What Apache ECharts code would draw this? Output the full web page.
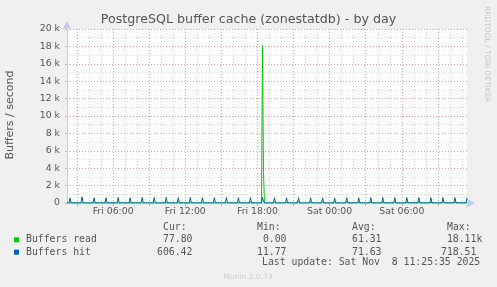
<!DOCTYPE html>
<html>
<head>
<meta charset="utf-8">
<script src="https://cdn.jsdelivr.net/npm/echarts@6/dist/echarts.min.js"></script>
<style>
html,body{margin:0;padding:0;background:#f0f0f0;}
#c{width:497px;height:287px;}
</style>
</head>
<body>
<div id="c"></div>
<script>
// ---- data (5-minute samples, Fri 02:10 .. Sat 11:25) ----
const startLabel = "Fri 02:10";
const stepMinutes = 5;
const sampleCount = 400;

const buffersRead = [
  0.4, 0, 1.1, 92, 2.5, 0, 0.3, 0, 0, 0.8, 0, 0.2,
  0.3, 0, 0.9, 140, 2.1, 0, 0.2, 0, 0, 0.6, 0, 0.1,
  0.5, 0, 1.2, 85, 2.7, 0, 0.4, 0, 0, 0.9, 0, 0.3,
  0.2, 0, 0.8, 110, 1.9, 0, 0.1, 0, 0, 0.5, 0, 0,
  0.4, 0, 1.0, 130, 2.4, 0, 0.3, 0, 0, 0.7, 0, 0.2,
  0.3, 0, 1.1, 75, 2.2, 0, 0.2, 0, 0, 0.6, 0, 0.1,
  0.6, 0, 1.3, 160, 2.9, 0, 0.5, 0, 0, 1.0, 0, 0.3,
  0.4, 0, 0.9, 95, 2.0, 0, 0.3, 0, 0, 0.7, 0, 0.2,
  0.5, 0, 1.2, 120, 2.6, 0, 0.4, 0, 0, 0.8, 0, 0.2,
  0.3, 0, 1.0, 88, 2.3, 0, 0.2, 0, 0, 0.6, 0, 0.1,
  0.6, 0, 1.4, 145, 2.8, 0, 0.4, 0, 0, 0.9, 0, 0.3,
  0.4, 0, 1.1, 102, 2.4, 0, 0.3, 0, 0, 0.7, 0, 0.2,
  0.5, 0, 1.2, 115, 2.5, 0, 0.3, 0, 0, 0.8, 0, 0.2,
  0.3, 0, 0.9, 90, 2.1, 0, 0.2, 0, 0, 0.6, 0, 0.1,
  0.5, 0, 1.3, 135, 2.7, 0, 0.4, 0, 0, 0.9, 0, 0.3,
  0.4, 0, 1.0, 98, 2.3, 0, 0.3, 0, 0, 0.7, 0, 0.2,
  0.6, 0, 1.5, 18110, 3500, 4.0, 0.8, 0, 0, 1.1, 0, 0.4,
  0.4, 0, 1.1, 125, 2.4, 0, 0.3, 0, 0, 0.7, 0, 0.2,
  0.3, 0, 0.8, 82, 2.0, 0, 0.2, 0, 0, 0.5, 0, 0.1,
  0.6, 0, 1.4, 150, 2.8, 0, 0.4, 0, 0, 0.9, 0, 0.3,
  0.4, 0, 1.0, 96, 2.2, 0, 0.3, 0, 0, 0.7, 0, 0.2,
  0.5, 0, 1.2, 118, 2.5, 0, 0.3, 0, 0, 0.8, 0, 0.2,
  0.3, 0, 0.9, 87, 2.1, 0, 0.2, 0, 0, 0.6, 0, 0.1,
  0.6, 0, 1.3, 142, 2.7, 0, 0.4, 0, 0, 0.9, 0, 0.3,
  0.4, 0, 1.1, 105, 2.4, 0, 0.3, 0, 0, 0.7, 0, 0.2,
  0.5, 0, 1.2, 128, 2.6, 0, 0.4, 0, 0, 0.8, 0, 0.2,
  0.3, 0, 0.9, 91, 2.1, 0, 0.2, 0, 0, 0.6, 0, 0.1,
  0.5, 0, 1.3, 137, 2.7, 0, 0.4, 0, 0, 0.9, 0, 0.3,
  0.4, 0, 1.0, 99, 2.3, 0, 0.3, 0, 0, 0.7, 0, 0.2,
  0.5, 0, 1.2, 121, 2.5, 0, 0.3, 0, 0, 0.8, 0, 0.2,
  0.3, 0, 0.9, 86, 2.0, 0, 0.2, 0, 0, 0.6, 0, 0.1,
  0.6, 0, 1.4, 148, 2.8, 0, 0.4, 0, 0, 0.9, 0, 0.3,
  0.4, 0, 1.1, 108, 2.4, 0, 0.3, 0, 0, 0.7, 0, 0.2,
  0.4, 0, 1.0, 77.80
];

const buffersHit = [
  18, 16, 21, 598, 34, 15, 14, 19, 13, 17, 15, 20,
  16, 14, 22, 718.51, 41, 17, 15, 18, 14, 16, 13, 19,
  17, 15, 20, 603, 36, 16, 14, 18, 15, 17, 14, 21,
  15, 14, 19, 611, 33, 15, 13, 17, 14, 16, 12, 18,
  16, 15, 21, 624, 38, 16, 14, 19, 15, 17, 14, 20,
  18, 16, 22, 596, 35, 17, 15, 18, 14, 16, 15, 19,
  17, 14, 20, 633, 37, 16, 14, 17, 13, 15, 14, 18,
  16, 15, 21, 615, 34, 15, 13, 18, 14, 17, 13, 20,
  19, 16, 23, 642, 39, 17, 15, 19, 16, 18, 15, 21,
  17, 15, 20, 608, 36, 16, 14, 18, 15, 16, 14, 19,
  18, 16, 22, 627, 38, 17, 15, 20, 16, 18, 15, 21,
  16, 14, 19, 601, 33, 15, 13, 17, 14, 16, 13, 18,
  17, 15, 21, 619, 35, 16, 14, 18, 15, 17, 14, 20,
  18, 16, 22, 636, 37, 17, 15, 19, 16, 18, 15, 21,
  16, 15, 20, 612, 34, 16, 14, 18, 14, 17, 14, 19,
  17, 14, 21, 625, 36, 15, 13, 17, 15, 16, 13, 20,
  18, 16, 22, 640, 120, 17, 15, 19, 16, 18, 15, 21,
  17, 15, 20, 606, 35, 16, 14, 18, 15, 17, 14, 19,
  16, 14, 19, 598, 33, 15, 13, 17, 14, 16, 12, 18,
  15, 13, 18, 604, 32, 14, 12, 16, 13, 15, 12, 17,
  14, 13, 17, 612, 31, 14, 12, 15, 13, 14, 11.77, 16,
  15, 13, 18, 597, 32, 14, 12, 16, 13, 15, 12, 17,
  14, 12, 17, 589, 30, 13, 12, 15, 12, 14, 12, 16,
  15, 13, 18, 603, 31, 14, 12, 16, 13, 15, 12, 17,
  15, 14, 19, 594, 33, 14, 13, 16, 13, 15, 13, 18,
  16, 14, 20, 611, 34, 15, 13, 17, 14, 16, 13, 19,
  17, 15, 21, 622, 36, 16, 14, 18, 15, 17, 14, 20,
  18, 16, 22, 630, 37, 17, 15, 19, 16, 18, 15, 21,
  17, 15, 21, 618, 35, 16, 14, 18, 15, 17, 14, 20,
  18, 16, 22, 637, 38, 17, 15, 19, 16, 18, 15, 21,
  17, 15, 20, 609, 35, 16, 14, 18, 15, 17, 14, 19,
  18, 16, 22, 628, 37, 17, 15, 19, 16, 18, 15, 21,
  17, 15, 21, 615, 36, 16, 14, 18, 15, 17, 14, 20,
  18, 16, 22, 606.42
];

const yTicks = [0, 2000, 4000, 6000, 8000, 10000, 12000, 14000, 16000, 18000, 20000];
const xTickLabels = ["Fri 06:00", "Fri 12:00", "Fri 18:00", "Sat 00:00", "Sat 06:00"];

const seriesNames = ["Buffers read", "Buffers hit"];
const curValues = ["77.80", "606.42"];
const minValues = [" 0.00", "11.77"];
const avgValues = ["61.31", "71.63"];
const maxValues = [" 18.11k", "718.51"];

const titleText = "PostgreSQL buffer cache (zonestatdb) - by day";
const yAxisTitle = "Buffers / second";
const lastUpdate = "Last update: Sat Nov  8 11:25:35 2025";
const sideText = "RRDTOOL / TOBI OETIKER";
const footer = "Munin 2.0.73";

// ---- derived categories ----
const startMin = 2 * 60 + 10;
const categories = [];
for (let i = 0; i < sampleCount; i++) {
  const m = startMin + i * stepMinutes;
  const day = m >= 1440 ? "Sat" : "Fri";
  const hh = Math.floor(m / 60) % 24;
  const mm = m % 60;
  categories.push(day + " " + String(hh).padStart(2, "0") + ":" + String(mm).padStart(2, "0"));
}
const minuteOf = (i) => (startMin + i * stepMinutes) % 60;
const hourOf = (i) => Math.floor((startMin + i * stepMinutes) / 60) % 24;

const GREEN = "#00cc00", BLUE = "#0066b3";
const RED_GRID = "#eaa2a2", GRAY_GRID = "#d9d9d9";
const AXIS_COL = "#c4cbee";
const mono = "DejaVu Sans Mono";
const sans = "DejaVu Sans";

function txt(text, x, y, opt) {
  opt = opt || {};
  return {
    type: "text", x: x, y: y, rotation: opt.rotation || 0, silent: true,
    style: {
      text: text,
      font: (opt.size || 9.8) + "px '" + (opt.family || mono) + "'",
      fill: opt.color || "#555",
      textAlign: opt.align || "left", align: opt.align || "left",
      textVerticalAlign: "middle", verticalAlign: "middle"
    }
  };
}

const graphics = [
  txt(titleText, 248.5, 19.5, {size: 12.67, family: sans, align: "center", color: "#555"}),
  txt(yAxisTitle, 10, 115, {size: 11, family: sans, align: "center", rotation: Math.PI / 2, color: "#555"}),
  txt(sideText, 487, 6, {size: 7.5, family: sans, align: "left", rotation: -Math.PI / 2, color: "#c8c8c8"}),
  txt("Cur:", 163, 227),
  txt("Min:", 257, 227),
  txt("Avg:", 352, 227),
  txt("Max:", 447, 227),
  {type: "rect", shape: {x: 14, y: 237.3, width: 5, height: 5}, style: {fill: GREEN}, silent: true},
  {type: "rect", shape: {x: 14, y: 249.7, width: 5, height: 5}, style: {fill: BLUE}, silent: true},
  txt(seriesNames[0], 26, 239.7),
  txt(seriesNames[1], 26, 252),
  txt(curValues[0], 163, 239.7), txt(curValues[1], 157, 252),
  txt(minValues[0], 257, 239.7), txt(minValues[1], 257, 252),
  txt(avgValues[0], 352, 239.7), txt(avgValues[1], 352, 252),
  txt(maxValues[0], 441, 239.7), txt(maxValues[1], 441, 252),
  txt(lastUpdate, 262, 262.5),
  txt(footer, 248, 277, {size: 7.5, family: sans, align: "center", color: "#cccccc"})
];

const chart = echarts.init(document.getElementById("c"), null, {renderer: "canvas"});
chart.setOption({
  backgroundColor: "#f0f0f0",
  animation: false,
  grid: {left: 67, right: 30, top: 29, bottom: 84, show: true, backgroundColor: "#ffffff", borderWidth: 0},
  xAxis: {
    type: "category",
    data: categories,
    boundaryGap: false,
    axisLine: {show: true, lineStyle: {color: AXIS_COL, width: 1}, symbol: ["none", "arrow"], symbolSize: [7, 9], symbolOffset: [0, 8]},
    axisTick: {show: true, length: 3, lineStyle: {color: RED_GRID},
      interval: (i) => minuteOf(i) === 0 && hourOf(i) % 3 === 0},
    axisLabel: {
      color: "#555", fontFamily: sans, fontSize: 9.33, margin: 4,
      interval: (i) => minuteOf(i) === 0 && hourOf(i) % 6 === 0 && xTickLabels.indexOf(categories[i]) >= 0
    },
    splitLine: {
      show: true,
      interval: (i) => minuteOf(i) === 0,
      lineStyle: {color: [RED_GRID, GRAY_GRID, GRAY_GRID], type: [1, 2], width: 1}
    }
  },
  yAxis: {
    type: "value",
    min: yTicks[0], max: yTicks[yTicks.length - 1], interval: 2000,
    axisLine: {show: true, lineStyle: {color: AXIS_COL}, symbol: ["none", "arrow"], symbolSize: [7, 9], symbolOffset: [0, 8]},
    axisTick: {show: true, length: 2, lineStyle: {color: "#bbbbbb"}},
    axisLabel: {color: "#555", fontFamily: sans, fontSize: 9.33, margin: 7,
      formatter: (v) => v === 0 ? "0" : (v / 1000) + " k"},
    splitLine: {show: true, lineStyle: {color: RED_GRID, type: [1, 2], width: 1}},
    minorTick: {show: false, splitNumber: 2},
    minorSplitLine: {show: true, lineStyle: {color: GRAY_GRID, type: [1, 2], width: 1}}
  },
  series: [
    {name: seriesNames[0], type: "line", data: buffersRead, showSymbol: false, symbol: "none",
      lineStyle: {color: GREEN, width: 1}, itemStyle: {color: GREEN}, z: 3},
    {name: seriesNames[1], type: "line", data: buffersHit, showSymbol: false, symbol: "none",
      lineStyle: {color: BLUE, width: 1}, itemStyle: {color: BLUE}, z: 4}
  ],
  graphic: graphics
});
</script>
</body>
</html>
